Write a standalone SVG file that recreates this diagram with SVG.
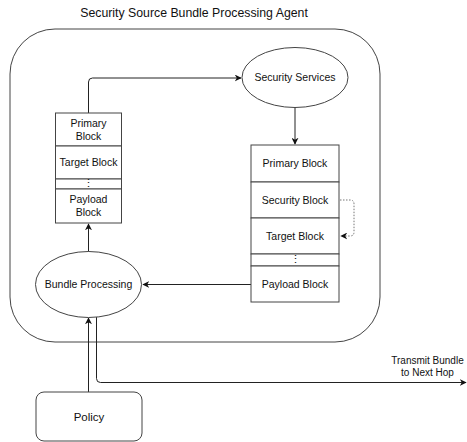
<svg xmlns="http://www.w3.org/2000/svg" width="467" height="442" viewBox="0 0 467 442">
<defs>
<marker id="arr" viewBox="0 0 10 10" refX="9" refY="5" markerWidth="7" markerHeight="7" orient="auto" markerUnits="userSpaceOnUse"><path d="M0,0 L10,5 L0,10 L3,5 Z" fill="#111"/></marker>
</defs>
<style>
text{font-family:"Liberation Sans",Arial,sans-serif;font-size:10.5px;fill:#111;text-anchor:middle}
.shape{fill:#fff;stroke:#444;stroke-width:1}
.line{fill:none;stroke:#222;stroke-width:1}
.dot{fill:none;stroke:#777;stroke-width:1;stroke-dasharray:1.5 1.5}
</style>
<rect width="467" height="442" fill="#fff"/>
<g id="agent">
<rect class="shape" x="10" y="29" width="370" height="313" rx="45" ry="45"/>
<text x="194" y="17" style="font-size:12.3px">Security Source Bundle Processing Agent</text>
</g>
<g id="connectors">
<path class="line" d="M88.5,113 V82 Q88.5,78 92.5,78 H241" marker-end="url(#arr)"/>
<path class="line" d="M295,107 V144" marker-end="url(#arr)"/>
<path class="line" d="M251,284.5 H143" marker-end="url(#arr)"/>
<path class="line" d="M88.5,252 V224" marker-end="url(#arr)"/>
<path class="line" d="M88.5,392 V318" marker-end="url(#arr)"/>
<path class="line" d="M96.5,317 V378.5 Q96.5,382.5 100.5,382.5 H466" marker-end="url(#arr)"/>
<path class="dot" d="M340,200 H350 Q354,200 354,204 V232 Q354,236 350,236 H341" marker-end="url(#arr)"/>
</g>
<g id="security-services">
<ellipse class="shape" cx="295" cy="77.5" rx="53" ry="30"/>
<text x="295" y="81">Security Services</text>
</g>
<g id="left-bundle">
<rect class="shape" x="55.5" y="113" width="66" height="33"/>
<text x="88.5" y="127">Primary</text>
<text x="88.5" y="140">Block</text>
<rect class="shape" x="55.5" y="146" width="66" height="33"/>
<text x="88.5" y="166">Target Block</text>
<rect class="shape" x="55.5" y="179" width="66" height="10"/>
<text x="88.5" y="187">⋮</text>
<rect class="shape" x="55.5" y="189" width="66" height="34"/>
<text x="88.5" y="203">Payload</text>
<text x="88.5" y="216">Block</text>
</g>
<g id="right-bundle">
<rect class="shape" x="251" y="145" width="88" height="37"/>
<text x="295" y="167">Primary Block</text>
<rect class="shape" x="251" y="182" width="88" height="36"/>
<text x="295" y="204">Security Block</text>
<rect class="shape" x="251" y="218" width="88" height="36"/>
<text x="295" y="240">Target Block</text>
<rect class="shape" x="251" y="254" width="88" height="12"/>
<text x="295" y="263">⋮</text>
<rect class="shape" x="251" y="266" width="88" height="36"/>
<text x="295" y="288">Payload Block</text>
</g>
<g id="bundle-processing">
<ellipse class="shape" cx="88.5" cy="284.5" rx="53" ry="33"/>
<text x="88.5" y="288">Bundle Processing</text>
</g>
<g id="policy">
<rect class="shape" x="36" y="392" width="106" height="49" rx="8" ry="8"/>
<text x="89" y="421" style="font-size:11.5px">Policy</text>
</g>
<g id="transmit-label">
<text x="427.5" y="364" style="font-size:10px">Transmit Bundle</text>
<text x="427.5" y="376" style="font-size:10px">to Next Hop</text>
</g>
</svg>
